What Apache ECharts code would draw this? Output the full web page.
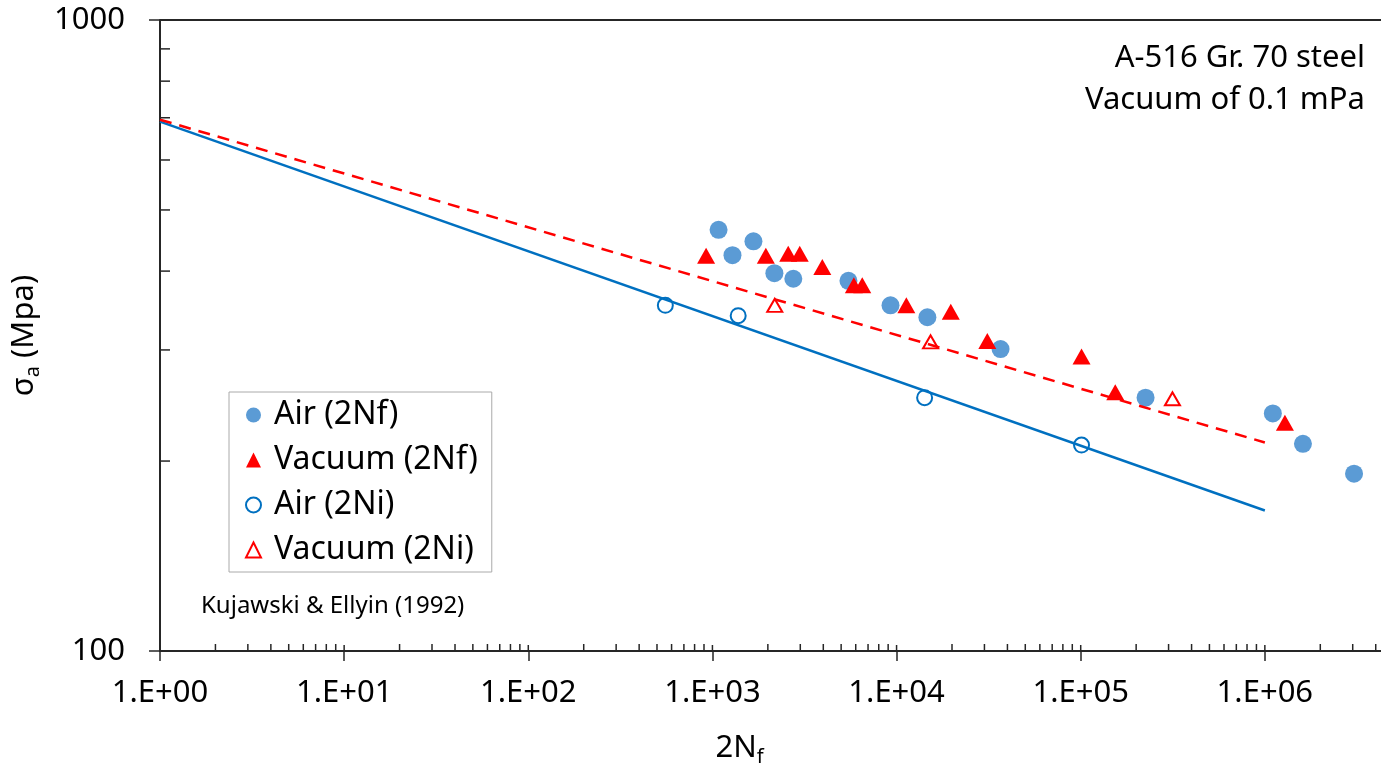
<!DOCTYPE html>
<html lang="en">
<head>
    <meta charset="UTF-8">
    <title>A-516 Gr. 70 steel</title>
    <script src="https://cdn.jsdelivr.net/npm/echarts@6.0.0/dist/echarts.min.js"></script>
    <style>
        body { margin: 0; background: #fff; }
    </style>
</head>
<body>
<div style="width:1381px;height:771px" id="picture"></div>
<script>
    // reversals 2N and stress amplitude (MPa)
    var airFailN = [1080, 1285, 1670, 2170, 2750, 5480, 9270, 14700, 36700, 225000, 1105000, 1610000, 3050000];
    var airFailS = [465, 424, 446, 397, 389, 386, 353, 338, 301, 252, 238, 213, 191];

    var vacFailN = [924, 1950, 2580, 2980, 3950, 5860, 6510, 11300, 19700, 31100, 101000, 154000, 1285000];
    var vacFailS = [423, 423, 426, 426, 406, 380, 380, 353, 345, 310, 293, 257, 230];

    var airInitN = [555, 1380, 14200, 101000];
    var airInitS = [353, 340, 252, 212];

    var vacInitN = [2180, 15300, 315000];
    var vacInitS = [353, 309, 251];

    // fitted lines (end points)
    var airFitN = [1, 1000000];
    var airFitS = [690, 167];
    var vacFitN = [1, 1000000];
    var vacFitS = [695, 214];

    // log axis ticks
    var xDecades = [1, 10, 100, 1000, 10000, 100000, 1000000, 10000000];
    var yMinorVals = [200, 300, 400, 500, 600, 700, 800, 900];

    var font = 'Noto Sans';
    var axisColor = '#262626';

    function pairs(xs, ys) {
        var out = [];
        for (var i = 0; i < xs.length; i++) {
            out.push([xs[i], ys[i]]);
        }
        return out;
    }

    // x: minor ticks 2..9 in each decade, plus the inner half of the major ticks
    var xTicks = [];
    for (var d = 0; d < xDecades.length - 1; d++) {
        xTicks.push([xDecades[d], 100, 6]);
        for (var m = 2; m <= 9; m++) {
            xTicks.push([xDecades[d] * m, 100, 7]);
        }
    }
    var yTicks = [];
    for (var k = 0; k < yMinorVals.length; k++) {
        yTicks.push([1, yMinorVals[k], 10]);
    }

    var myChart = echarts.init(document.getElementById('picture'));
    var option = {
        animation: false,
        backgroundColor: '#fff',
        grid: {
            left: 160,
            right: -68,
            top: 20,
            bottom: 120,
            outerBoundsMode: 'none',
            containLabel: false
        },
        legend: {
            data: ['Air (2Nf)', 'Vacuum (2Nf)', 'Air (2Ni)', 'Vacuum (2Ni)'],
            orient: 'vertical',
            left: 229,
            top: 392,
            padding: [7, 14, 6, 16],
            itemGap: 13,
            itemWidth: 15,
            itemHeight: 15,
            borderColor: '#aaaaaa',
            borderWidth: 1,
            selectedMode: false,
            textStyle: {
                fontFamily: font,
                fontSize: 32,
                color: '#000',
                padding: [0, 0, 0, 8]
            }
        },
        xAxis: {
            type: 'log',
            logBase: 10,
            min: 1,
            max: 10000000,
            name: '2N{s|f}',
            nameLocation: 'middle',
            nameGap: 78,
            nameTextStyle: {
                fontFamily: font,
                fontSize: 31,
                color: '#000',
                padding: [0, 130, 0, 0],
                rich: {
                    s: {fontFamily: font, fontSize: 20, color: '#000', padding: [18, 0, 0, 0]}
                }
            },
            axisLine: {lineStyle: {color: axisColor, width: 2}},
            axisTick: {length: 10, lineStyle: {color: axisColor, width: 1.5}},
            axisLabel: {
                margin: 27,
                fontFamily: font,
                fontSize: 31,
                color: '#000',
                formatter: function (v) {
                    var e = Math.round(Math.log(v) / Math.LN10);
                    return '1.E+' + (e < 10 ? '0' : '') + e;
                }
            },
            splitLine: {show: false}
        },
        yAxis: {
            type: 'log',
            logBase: 10,
            min: 100,
            max: 1000,
            name: '\u03c3{s|a} (Mpa)',
            nameLocation: 'middle',
            nameGap: 115,
            nameTextStyle: {
                fontFamily: font,
                fontSize: 31,
                color: '#000',
                rich: {
                    s: {fontFamily: font, fontSize: 20, color: '#000', padding: [18, 0, 0, 0]}
                }
            },
            axisLine: {show: true, lineStyle: {color: axisColor, width: 2}},
            axisTick: {length: 11, lineStyle: {color: axisColor, width: 1.5}},
            axisLabel: {
                margin: 35,
                fontFamily: font,
                fontSize: 31,
                color: '#000',
                formatter: function (v) {
                    return String(Math.round(v));
                }
            },
            splitLine: {show: true, lineStyle: {color: axisColor, width: 2}}
        },
        graphic: [
            {
                type: 'text',
                right: 16,
                top: 37,
                style: {
                    text: 'A-516 Gr. 70 steel',
                    fontFamily: font,
                    fontSize: 31,
                    lineHeight: 42,
                    fill: '#000'
                }
            },
            {
                type: 'text',
                right: 16,
                top: 79,
                style: {
                    text: 'Vacuum of 0.1 mPa',
                    fontFamily: font,
                    fontSize: 31,
                    lineHeight: 42,
                    fill: '#000'
                }
            },
            {
                type: 'text',
                left: 201,
                top: 594,
                style: {
                    text: 'Kujawski & Ellyin (1992)',
                    fontFamily: font,
                    fontSize: 24,
                    fill: '#000'
                }
            }
        ],
        series: [
            {
                name: 'Air fit',
                type: 'line',
                data: pairs(airFitN, airFitS),
                showSymbol: false,
                silent: true,
                lineStyle: {color: '#0070C0', width: 2.5}
            },
            {
                name: 'Vacuum fit',
                type: 'line',
                data: pairs(vacFitN, vacFitS),
                showSymbol: false,
                silent: true,
                lineStyle: {color: '#FF0000', width: 2.5, type: [12, 8]}
            },
            {
                name: 'Air (2Nf)',
                type: 'scatter',
                data: pairs(airFailN, airFailS),
                symbol: 'circle',
                symbolSize: 18,
                itemStyle: {color: '#5B9BD5', opacity: 1}
            },
            {
                name: 'Vacuum (2Nf)',
                type: 'scatter',
                data: pairs(vacFailN, vacFailS),
                symbol: 'triangle',
                symbolSize: [18, 16],
                itemStyle: {color: '#FF0000', opacity: 1}
            },
            {
                name: 'Air (2Ni)',
                type: 'scatter',
                data: pairs(airInitN, airInitS),
                symbol: 'emptyCircle',
                symbolSize: 15,
                itemStyle: {color: '#0070C0', borderWidth: 2, opacity: 1}
            },
            {
                name: 'Vacuum (2Ni)',
                type: 'scatter',
                data: pairs(vacInitN, vacInitS),
                symbol: 'emptyTriangle',
                symbolSize: [15, 13],
                itemStyle: {color: '#FF0000', borderWidth: 2, opacity: 1}
            },
            {
                type: 'custom',
                silent: true,
                clip: false,
                z: 5,
                data: xTicks,
                encode: {x: 0, y: 1},
                renderItem: function (params, api) {
                    var p = api.coord([api.value(0), api.value(1)]);
                    var len = api.value(2);
                    return {
                        type: 'line',
                        shape: {x1: p[0], y1: p[1], x2: p[0], y2: p[1] - len},
                        style: {stroke: axisColor, lineWidth: 1.5}
                    };
                }
            },
            {
                type: 'custom',
                silent: true,
                clip: false,
                z: 5,
                data: yTicks,
                encode: {x: 0, y: 1},
                renderItem: function (params, api) {
                    var p = api.coord([api.value(0), api.value(1)]);
                    var len = api.value(2);
                    return {
                        type: 'line',
                        shape: {x1: p[0], y1: p[1], x2: p[0] + len, y2: p[1]},
                        style: {stroke: axisColor, lineWidth: 1.5}
                    };
                }
            }
        ]
    };
    myChart.setOption(option);
</script>
</body>
</html>
